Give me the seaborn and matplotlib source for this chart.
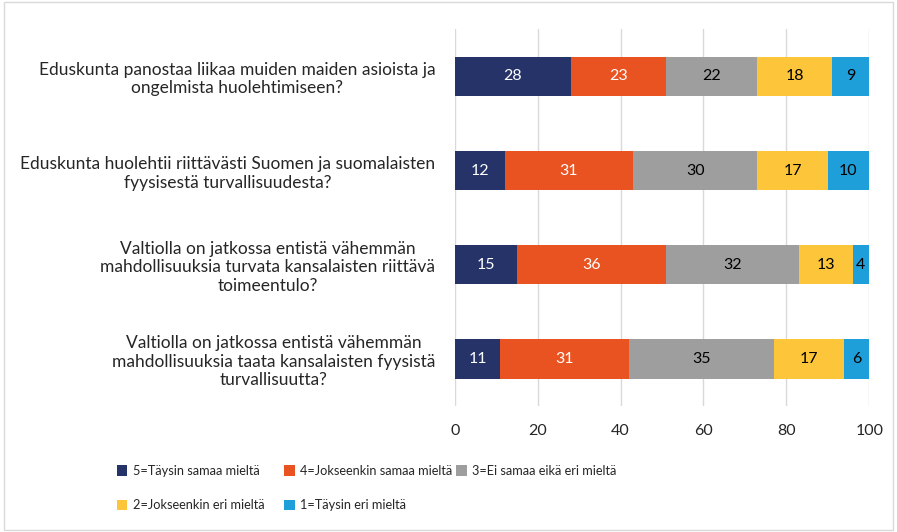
import numpy as np
import pandas as pd
import matplotlib
matplotlib.use("Agg")
import matplotlib.pyplot as plt
import seaborn as sns
from matplotlib.patches import Rectangle

# Kysymykset (ylhäältä alas)
questions = [
    "Eduskunta panostaa liikaa muiden maiden asioista ja\nongelmista huolehtimiseen?",
    "Eduskunta huolehtii riittävästi Suomen ja suomalaisten\nfyysisestä turvallisuudesta?",
    "Valtiolla on jatkossa entistä vähemmän\nmahdollisuuksia turvata kansalaisten riittävä\ntoimeentulo?",
    "Valtiolla on jatkossa entistä vähemmän\nmahdollisuuksia taata kansalaisten fyysistä\nturvallisuutta?",
]
answers = [
    "5=Täysin samaa mieltä",
    "4=Jokseenkin samaa mieltä",
    "3=Ei samaa eikä eri mieltä",
    "2=Jokseenkin eri mieltä",
    "1=Täysin eri mieltä",
]
v5 = [28, 12, 15, 11]
v4 = [23, 31, 36, 31]
v3 = [22, 30, 32, 35]
v2 = [18, 17, 13, 17]
v1 = [9, 10, 4, 6]
colors = ["#253368", "#E95322", "#9E9E9E", "#FDC53A", "#1F9FDA"]
text_colors = ["white", "white", "black", "black", "black"]
xticks = [0, 20, 40, 60, 80, 100]

sns.set_style("white")
plt.rcParams["font.family"] = ["Lato", "DejaVu Sans"]

values = np.array([v5, v4, v3, v2, v1])
cum = values.cumsum(axis=0)

fig = plt.figure(figsize=(8.97, 5.32), dpi=100)
ax = fig.add_axes([0.507, 0.237, 0.462, 0.708])

# pinotut palkit: piirretään kumulatiiviset summat suurimmasta pienimpään
for i in range(len(answers) - 1, -1, -1):
    df = pd.DataFrame({"q": questions, "v": cum[i]})
    sns.barplot(data=df, x="v", y="q", orient="h", color=colors[i],
                saturation=1, width=0.42, ax=ax, label=answers[i],
                zorder=3, linewidth=0)

handles, labels = ax.get_legend_handles_labels()
if ax.get_legend() is not None:
    ax.get_legend().remove()

# arvot palkkien sisään
for i in range(len(answers)):
    for j in range(len(questions)):
        ax.text(cum[i][j] - values[i][j] / 2, j, str(values[i][j]),
                ha="center", va="center", color=text_colors[i],
                fontsize=11.5, zorder=4)

ax.set_xlim(0, 100)
ax.set_ylim(3.5, -0.5)
ax.set_xticks(xticks)
ax.set_xticklabels([str(t) for t in xticks], fontsize=11.5)
ax.set_xlabel("")
ax.set_ylabel("")
ax.tick_params(axis="x", length=0, pad=13)
ax.tick_params(axis="y", length=0, pad=14)
for lab in ax.get_yticklabels():
    lab.set_multialignment("center")
    lab.set_fontsize(12.5)
ax.grid(axis="x", color="#D9D9D9", linewidth=1, zorder=0)
for s in ax.spines.values():
    s.set_visible(False)

# legenda: kolme saraketta kuten Excelissä
legend_cols = [[answers[0], answers[3]], [answers[1], answers[4]], [answers[2]]]
legend_x = [0.130, 0.317, 0.508]
for col, x in zip(legend_cols, legend_x):
    idx = [labels.index(a) for a in col]
    fig.legend([handles[k] for k in idx], [labels[k] for k in idx],
               loc="upper left", bbox_to_anchor=(x, 0.126), ncol=1,
               frameon=False, fontsize=9.2, handlelength=0.85,
               handleheight=0.85, handletextpad=0.4, labelspacing=1.75,
               borderaxespad=0, borderpad=0)

fig.patches.append(Rectangle((0.004, 0.004), 0.992, 0.992, transform=fig.transFigure,
                             fill=False, edgecolor="#D9D9D9", linewidth=1))

fig.savefig("out.png", dpi=100)
